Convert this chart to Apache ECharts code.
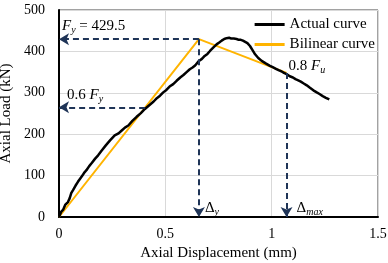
<!DOCTYPE html>
<html><head><meta charset="utf-8">
<script src="https://cdn.jsdelivr.net/npm/echarts@6/dist/echarts.min.js"></script>
<style>html,body{margin:0;padding:0;background:#fff}#c{width:388px;height:263px}</style>
</head><body><div id="c"></div>
<script>
const actualX = [0, 0.011, 0.02, 0.03, 0.042, 0.05, 0.058, 0.066, 0.078, 0.089, 0.1, 0.11, 0.12, 0.129, 0.142, 0.155, 0.17, 0.184, 0.2, 0.22, 0.24, 0.262, 0.28, 0.295, 0.31, 0.326, 0.345, 0.365, 0.385, 0.404, 0.427, 0.445, 0.46, 0.475, 0.49, 0.505, 0.52, 0.537, 0.553, 0.57, 0.585, 0.6, 0.615, 0.628, 0.64, 0.658, 0.672, 0.685, 0.698, 0.71, 0.725, 0.741, 0.755, 0.765, 0.777, 0.788, 0.8, 0.81, 0.822, 0.835, 0.845, 0.855, 0.865, 0.874, 0.886, 0.898, 0.91, 0.922, 0.937, 0.953, 0.972, 0.992, 1.005, 1.02, 1.035, 1.045, 1.058, 1.07, 1.085, 1.1, 1.112, 1.125, 1.137, 1.149, 1.165, 1.18, 1.196, 1.212, 1.225, 1.24, 1.255, 1.271];
const actualY = [0, 13, 18, 30, 36, 45, 58, 65, 76, 85, 93, 100, 108, 113, 123, 131, 141, 149, 160, 173, 185, 197, 202, 209, 216, 221, 232, 242, 251, 261, 271, 279, 287, 293, 301, 307, 315, 321, 329, 337, 343, 350, 357, 361, 366, 377, 382, 389, 394, 401, 409, 417, 422, 426, 430, 432, 433, 431, 431, 430, 428, 428, 426, 425, 420, 413, 403, 393, 384, 377, 371, 365, 362, 358, 354, 352, 348, 345, 340, 337, 333, 330, 327, 323, 318, 312, 306, 301, 297, 292, 288, 284];
const bilinearX = [0, 0.658, 1.07];
const bilinearY = [0, 429.5, 348];
const xTicks = [0, 0.5, 1, 1.5];
const yTicks = [0, 100, 200, 300, 400, 500];
const Fy = 429.5, Fy06 = 265, dy = 0.658, dmax = 1.07, Fu08 = 348, x06 = 0.405;

const zip = (a, b) => a.map((v, i) => [v, b[i]]);
const serif = '"Liberation Serif", "Times New Roman", serif';
const navy = '#1F3457';
const sub = { fontFamily: serif, fontSize: 10, fontStyle: 'italic', color: '#000', padding: [8, 0, 0, 0] };
const it = { fontFamily: serif, fontSize: 15, fontStyle: 'italic', color: '#000' };
const rm = { fontFamily: serif, fontSize: 15, color: '#000' };
function mp(coord, pos, text) {
  return { coord: coord, symbolSize: 0, label: { show: true, position: pos, align: 'left', verticalAlign: 'middle', formatter: text, rich: { i: it, s: sub, r: rm } } };
}
const chart = echarts.init(document.getElementById('c'));
chart.setOption({
  animation: false,
  textStyle: { fontFamily: serif },
  grid: { left: 59, right: 10, top: 10, bottom: 46, containLabel: false, outerBoundsMode: 'none', show: true, borderColor: '#444', borderWidth: 1 },
  legend: {
    orient: 'vertical', right: 8, top: 12, itemGap: 5, itemWidth: 30, itemHeight: 3,
    icon: 'rect', textStyle: { fontFamily: serif, fontSize: 15, color: '#000' },
    data: ['Actual curve', 'Bilinear curve']
  },
  xAxis: {
    type: 'value', min: xTicks[0], max: xTicks[xTicks.length - 1], interval: 0.5,
    name: 'Axial Displacement (mm)', nameLocation: 'middle', nameGap: 27,
    nameTextStyle: { fontFamily: serif, fontSize: 15, color: '#000' },
    axisLine: { lineStyle: { color: '#000', width: 2 } }, axisTick: { show: false },
    axisLabel: { margin: 10, fontFamily: serif, fontSize: 14, color: '#000' },
    splitLine: { lineStyle: { color: '#d9d9d9' } }
  },
  yAxis: {
    type: 'value', min: yTicks[0], max: yTicks[yTicks.length - 1], interval: 100,
    name: 'Axial Load (kN)', nameLocation: 'middle', nameGap: 40,
    nameTextStyle: { fontFamily: serif, fontSize: 15, color: '#000' },
    axisLine: { show: true, lineStyle: { color: '#000', width: 2 } }, axisTick: { show: false },
    axisLabel: { margin: 14, fontFamily: serif, fontSize: 14, color: '#000' },
    splitLine: { lineStyle: { color: '#d9d9d9' } }
  },
  series: [
    {
      name: 'Bilinear curve', type: 'line', data: zip(bilinearX, bilinearY), symbol: 'none',
      lineStyle: { color: '#FFB400', width: 2 }, itemStyle: { color: '#FFB400' }, z: 2,
      markLine: {
        silent: true, symbol: ['none', 'arrow'], symbolSize: [9, 10],
        lineStyle: { color: navy, type: [6, 4], width: 2 }, label: { show: false },
        data: [
          [{ coord: [dy, Fy] }, { coord: [0, Fy] }],
          [{ coord: [x06, Fy06] }, { coord: [0, Fy06] }],
          [{ coord: [dy, Fy] }, { coord: [dy, 0] }],
          [{ coord: [dmax, Fu08] }, { coord: [dmax, 0] }]
        ]
      },
      markPoint: {
        silent: true, symbol: 'circle',
        data: [
          mp([0, Fy], [3, -13], '{i|F}{s|y}{r| = 429.5}'),
          mp([0, Fy06], [8, -12], '{r|0.6 }{i|F}{s|y}'),
          mp([dmax, Fu08], [2, -7], '{r|0.8 }{i|F}{s|u}'),
          mp([dy, 0], [6, -9], '{r|Δ}{s|y}'),
          mp([dmax, 0], [10, -9], '{r|Δ}{s|max}')
        ]
      }
    },
    {
      name: 'Actual curve', type: 'line', data: zip(actualX, actualY), symbol: 'none',
      lineStyle: { color: '#000', width: 2.5 }, itemStyle: { color: '#000' }, z: 3
    }
  ]
});
</script></body></html>
